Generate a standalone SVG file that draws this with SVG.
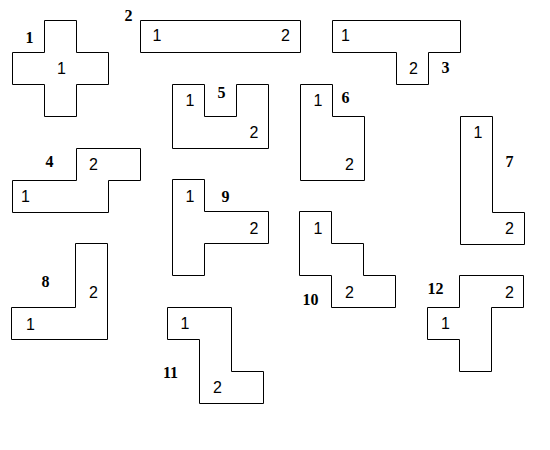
<svg xmlns="http://www.w3.org/2000/svg" width="550" height="450" viewBox="0 0 550 450">
<style>
.s{fill:#fff;stroke:#000;stroke-width:1}
.n{font-family:"Liberation Sans",Arial,sans-serif;font-size:16px;fill:#000;text-anchor:middle}
.b{font-family:"Liberation Serif","Times New Roman",serif;font-size:16px;font-weight:bold;fill:#000;text-anchor:middle}
</style>
<rect width="550" height="450" fill="#fff"/>
<g transform="translate(0.5,0.5)">
<g id="p1">
<polygon class="s" points="44,20 76,20 76,52 108,52 108,84 76,84 76,116 44,116 44,84 12,84 12,52 44,52"/>
<text class="b" x="29" y="42">1</text>
<text class="n" x="61" y="73">1</text>
</g>
<g id="p2">
<polygon class="s" points="140,20 300,20 300,52 140,52"/>
<text class="b" x="128" y="20">2</text>
<text class="n" x="156.5" y="40">1</text>
<text class="n" x="285" y="40">2</text>
</g>
<g id="p3">
<polygon class="s" points="332,20 460,20 460,52 428,52 428,84 396,84 396,52 332,52"/>
<text class="b" x="445" y="72.5">3</text>
<text class="n" x="345" y="40">1</text>
<text class="n" x="413" y="73">2</text>
</g>
<g id="p4">
<polygon class="s" points="76,148 140,148 140,180 108,180 108,212 12,212 12,180 76,180"/>
<text class="b" x="49" y="166">4</text>
<text class="n" x="93" y="169">2</text>
<text class="n" x="25" y="201">1</text>
</g>
<g id="p5">
<polygon class="s" points="172,84 204,84 204,116 236,116 236,84 268,84 268,148 172,148"/>
<text class="b" x="221" y="97">5</text>
<text class="n" x="189.5" y="105">1</text>
<text class="n" x="253.5" y="137">2</text>
</g>
<g id="p6">
<polygon class="s" points="300,84 332,84 332,116 364,116 364,180 300,180"/>
<text class="b" x="345" y="102">6</text>
<text class="n" x="317.5" y="105">1</text>
<text class="n" x="349" y="169">2</text>
</g>
<g id="p7">
<polygon class="s" points="460,116 492,116 492,212 524,212 524,244 460,244"/>
<text class="b" x="509" y="166">7</text>
<text class="n" x="477.5" y="137">1</text>
<text class="n" x="509" y="233">2</text>
</g>
<g id="p8">
<polygon class="s" points="75,243 107,243 107,339 11,339 11,307 75,307"/>
<text class="b" x="45" y="286">8</text>
<text class="n" x="93" y="297">2</text>
<text class="n" x="30" y="329">1</text>
</g>
<g id="p9">
<polygon class="s" points="172,179 204,179 204,211 268,211 268,243 204,243 204,275 172,275"/>
<text class="b" x="225" y="201">9</text>
<text class="n" x="189.5" y="201">1</text>
<text class="n" x="253.5" y="233">2</text>
</g>
<g id="p10">
<polygon class="s" points="299,211 331,211 331,243 363,243 363,275 395,275 395,307 331,307 331,275 299,275"/>
<text class="b" x="310" y="304">10</text>
<text class="n" x="317.5" y="233">1</text>
<text class="n" x="349" y="297">2</text>
</g>
<g id="p11">
<polygon class="s" points="167,307 231,307 231,371 263,371 263,403 199,403 199,339 167,339"/>
<text class="b" x="170" y="377">11</text>
<text class="n" x="184.5" y="328.5">1</text>
<text class="n" x="217" y="392.5">2</text>
</g>
<g id="p12">
<polygon class="s" points="459,275 523,275 523,307 491,307 491,371 459,371 459,339 427,339 427,307 459,307"/>
<text class="b" x="435" y="293">12</text>
<text class="n" x="509" y="297">2</text>
<text class="n" x="445" y="328.5">1</text>
</g>
</g>
<g id="connectors"/>
</svg>
